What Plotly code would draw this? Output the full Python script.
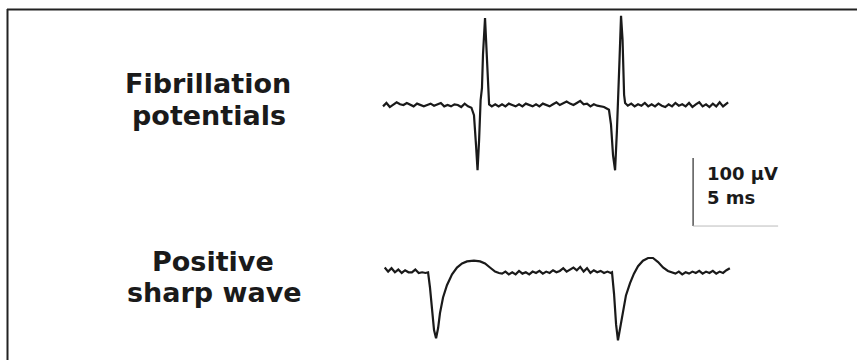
import plotly.graph_objects as go

# ---------------- data (time in ms, amplitude in µV) ----------------
FIB_T = [0.0, 0.2, 0.4, 0.6, 0.8, 1.0, 1.2, 1.4, 1.6, 1.8, 2.0, 2.2, 2.4, 2.6, 2.8, 3.0,
         3.2, 3.4, 3.6, 3.8, 4.0, 4.2, 4.4, 4.6, 4.8, 5.0, 5.2,
         5.35, 5.47, 5.56, 5.65, 5.74, 5.82, 5.88, 6.00, 6.09, 6.18, 6.24,
         6.4, 6.6, 6.8, 7.0, 7.2, 7.4, 7.6, 7.8, 8.0, 8.2, 8.4, 8.6, 8.8, 9.0, 9.2, 9.4,
         9.6, 9.8, 10.0, 10.2, 10.4, 10.6, 10.8, 11.0, 11.2, 11.4, 11.6, 11.8, 12.0, 12.2,
         12.4, 12.6, 12.8, 13.0,
         13.29, 13.41, 13.53, 13.65, 13.76, 13.85, 13.91, 14.0, 14.09, 14.18, 14.24,
         14.4, 14.6, 14.8, 15.0, 15.2, 15.4, 15.6, 15.8, 16.0, 16.2, 16.4, 16.6, 16.8, 17.0,
         17.2, 17.4, 17.6, 17.8, 18.0, 18.2, 18.4, 18.6, 18.8, 19.0, 19.2, 19.4, 19.6, 19.8,
         20.0, 20.2, 20.3]
FIB_V = [-2, 3, -3, 1, 4, 1, 0, 3, 0, -2, 2, 0, -2, 0, 2, -1, 1, 3, -2, 0, -2, 1, 0, -3, 2, -2, -4,
         -15, -59, -96, -52, 7, 25, 74, 128, 81, 22, 1,
         -2, 1, -2, 1, -2, 2, 0, -2, 1, -2, 2, 0, -2, 1, -2, 2, 0, -2, 1, 4, 0, 2, 5, 2, 0, 3,
         6, 1, 2, -2, 1, -1, -2, -3,
         -7, -29, -74, -96, -37, 15, 66, 131, 96, 15, 3,
         -1, 2, -2, 1, -1, 3, -2, 1, -2, 2, -1, -3, 1, -2, 3, -1, 1, -2, 3, -3, 1, 4, -2, 1,
         -3, 2, -2, 4, -2, 3, 4]

PSW_T = [0.1, 0.3, 0.5, 0.7, 0.9, 1.1, 1.3, 1.5, 1.7, 1.9, 2.1, 2.3, 2.5,
         2.65, 2.76, 2.88, 3.00, 3.12, 3.24, 3.35, 3.53, 3.76, 4.06, 4.35, 4.65, 4.94, 5.35,
         5.71, 6.00, 6.29, 6.59, 6.82,
         7.0, 7.2, 7.4, 7.6, 7.8, 8.0, 8.2, 8.4, 8.6, 8.8, 9.0, 9.2, 9.4, 9.6, 9.8, 10.0,
         10.2, 10.4, 10.6, 10.8, 11.0, 11.2, 11.4, 11.6, 11.8, 12.0, 12.2, 12.4, 12.6, 12.8,
         13.0, 13.2, 13.4,
         13.47, 13.59, 13.71, 13.82, 13.94, 14.12, 14.29, 14.53, 14.76, 15.0, 15.29, 15.59,
         15.88, 16.18, 16.47, 16.76, 17.0,
         17.2, 17.4, 17.6, 17.8, 18.0, 18.2, 18.4, 18.6, 18.8, 19.0, 19.2, 19.4, 19.6, 19.8,
         20.0, 20.2, 20.4]
PSW_V = [4, -2, 3, -3, 1, -4, 0, -3, -3, 1, -4, -3, -4,
         -3, -25, -60, -88, -100, -85, -63, -40, -22, -6, 4, 10, 13, 14,
         13, 10, 4, -2, -4,
         -5, -2, -6, -3, -6, -1, -5, -3, -6, -2, -4, -1, -5, -2, -4, 0, -3, -1, 3, -2, 1, 4,
         0, 5, -2, 3, -4, 0, -3, -1, -4, -2, -4,
         -3, -35, -80, -103, -85, -59, -37, -19, -5, 6, 14, 18, 18, 12, 4, -1, -3,
         -5, -2, -6, -3, -5, -2, -4, -1, -5, -2, -4, -1, -5, -2, -4, 0, 3]

LABEL_FIB = ["Fibrillation", "potentials"]
LABEL_PSW = ["Positive", "sharp wave"]
SCALE_UV = 100      # vertical calibration bar (µV)
SCALE_MS = 5        # horizontal calibration bar (ms)
SCALE_TEXT = ["100 µV", "5 ms"]

# ---------------- layout constants ----------------
W, H = 857, 360
PSW_OFFSET = -243          # vertical placement of 2nd trace (µV)
XR = [-22.53, 27.88]
YR = [-375.0, 154.4]
SCALE_X0 = 18.24
SCALE_Y0 = -178
INK = "#1a1a1a"

fig = go.Figure()
fig.add_trace(go.Scatter(x=FIB_T, y=FIB_V, mode="lines",
                         line=dict(color=INK, width=2.2), hoverinfo="skip"))
fig.add_trace(go.Scatter(x=PSW_T, y=[v + PSW_OFFSET for v in PSW_V], mode="lines",
                         line=dict(color=INK, width=2.2), hoverinfo="skip"))

# calibration bars
fig.add_shape(type="line", xref="x", yref="y", x0=SCALE_X0, x1=SCALE_X0,
              y0=SCALE_Y0, y1=SCALE_Y0 + SCALE_UV, line=dict(color="#555", width=1.5))
fig.add_shape(type="line", xref="x", yref="y", x0=SCALE_X0, x1=SCALE_X0 + SCALE_MS,
              y0=SCALE_Y0, y1=SCALE_Y0, line=dict(color="#bbb", width=1))

# frame (top and left edges)
fig.add_shape(type="line", xref="paper", yref="paper", x0=7 / W, x1=1,
              y0=1 - 9.5 / H, y1=1 - 9.5 / H, line=dict(color="#222", width=2))
fig.add_shape(type="line", xref="paper", yref="paper", x0=7.5 / W, x1=7.5 / W,
              y0=1 - 9 / H, y1=0, line=dict(color="#222", width=2))

FONT = "DejaVu Sans"
def add_text(txt, px, py, size, anchor="center"):
    fig.add_annotation(text="<b>" + txt + "</b>", xref="paper", yref="paper",
                       x=px / W, y=1 - py / H,
                       xanchor=anchor, yanchor="middle", showarrow=False,
                       font=dict(family=FONT, size=size, color=INK))

add_text(LABEL_FIB[0], 208, 83, 27)
add_text(LABEL_FIB[1], 209, 116, 27)
add_text(LABEL_PSW[0], 213, 261, 27)
add_text(LABEL_PSW[1], 214, 292, 27)
add_text(SCALE_TEXT[0], 705, 173, 18, "left")
add_text(SCALE_TEXT[1], 705, 197, 18, "left")

fig.update_layout(width=W, height=H, margin=dict(l=0, r=0, t=0, b=0),
                  paper_bgcolor="white", plot_bgcolor="white", showlegend=False,
                  xaxis=dict(range=XR, visible=False, fixedrange=True),
                  yaxis=dict(range=YR, visible=False, fixedrange=True))
fig.write_html("out.html")
